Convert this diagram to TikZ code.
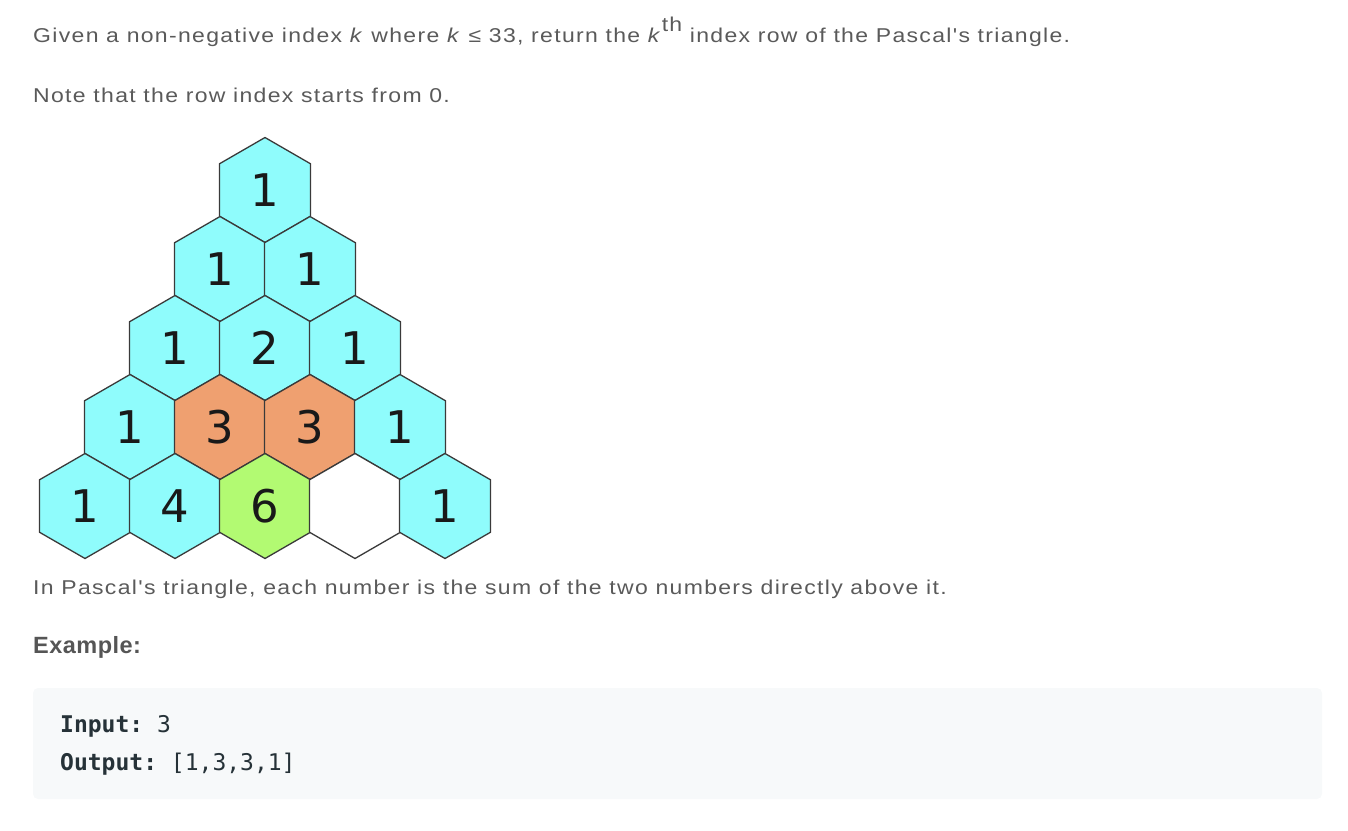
\documentclass[tikz,border=0pt]{standalone}
\usepackage{fontspec}
\setmainfont{Liberation Sans}
\setmonofont{DejaVu Sans Mono}
\newfontfamily\bodyfont[FakeStretch=1.15,LetterSpace=6.6]{Liberation Sans}
\newfontfamily\headfont[LetterSpace=2]{Liberation Sans}
\newfontfamily\cellfont{DejaVu Sans}
\usepackage{tikz}
\usetikzlibrary{shapes.geometric}
\definecolor{bodygray}{HTML}{5A5A5A}
\definecolor{headgray}{HTML}{555555}
\definecolor{codeink}{HTML}{263238}
\definecolor{codebg}{HTML}{F7F9FA}
\definecolor{hexline}{HTML}{3A3A3A}
\definecolor{cellcyan}{HTML}{8FFCFC}
\definecolor{cellorange}{HTML}{EFA070}
\definecolor{cellgreen}{HTML}{B2FA72}
\tikzstyle{hexcell}=[draw=hexline,line width=1.3pt,regular polygon,regular polygon sides=6,shape border rotate=30,minimum size=105pt,inner sep=0pt,font=\cellfont\fontsize{45pt}{45pt}\selectfont,text=black!90]
\tikzstyle{bodytext}=[anchor=base west,inner sep=0pt,text=bodygray,font=\bodyfont\fontsize{20pt}{24pt}\selectfont]
\tikzstyle{codetext}=[anchor=base west,inner sep=0pt,text=codeink,font=\ttfamily\fontsize{23pt}{27pt}\selectfont]

\begin{document}
\begin{tikzpicture}[x=1pt,y=-1pt]
\useasboundingbox (0,0) rectangle (1348,830);
\node [bodytext] (given) at (33,42) {Given a non-negative index \textit{k} where \textit{k} ≤ 33, return the \textit{k}\raisebox{11pt}{th} index row of the Pascal's triangle.};
\node [bodytext] (note) at (33,102) {Note that the row index starts from 0.};
% the triangle, row by row
\foreach \r/\i/\v/\c in {0/0/1/cellcyan,
    1/0/1/cellcyan, 1/1/1/cellcyan,
    2/0/1/cellcyan, 2/1/2/cellcyan, 2/2/1/cellcyan,
    3/0/1/cellcyan, 3/1/3/cellorange, 3/2/3/cellorange, 3/3/1/cellcyan,
    4/0/1/cellcyan, 4/1/4/cellcyan, 4/2/6/cellgreen, 4/3/{}/white, 4/4/1/cellcyan}
  \node [hexcell,fill=\c] (h\r\i) at ({265+(\i-\r/2)*90},{190+79*\r}) {\v};
\node [bodytext] (sum) at (33,594) {In Pascal's triangle, each number is the sum of the two numbers directly above it.};
\node [bodytext,text=headgray,font=\headfont\bfseries\fontsize{23.5pt}{27pt}\selectfont] (example) at (33,653) {Example:};
\fill [codebg,rounded corners=5pt] (33,688) rectangle (1322,799);
\node [codetext] (input) at (60,732) {\textbf{Input:} 3};
\node [codetext] (output) at (60,770) {\textbf{Output:} [1,3,3,1]};
\end{tikzpicture}
\end{document}
